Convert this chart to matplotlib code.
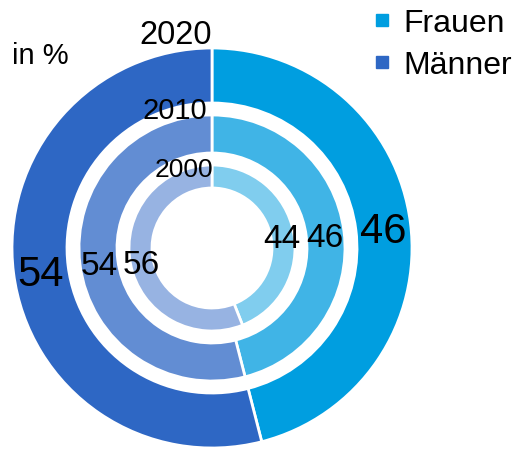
import numpy as np
import matplotlib
matplotlib.use('Agg')
import matplotlib.pyplot as plt
from matplotlib.lines import Line2D

plt.rcParams['font.family'] = ['Liberation Sans', 'DejaVu Sans']

# data (in %)
groups = ["Frauen", "Männer"]
years = ["2020", "2010", "2000"]
share_2020 = [46, 54]
share_2010 = [46, 54]
share_2000 = [44, 56]

colors_2020 = ["#009EE0", "#2E67C4"]
colors_2010 = ["#40B4E6", "#628DD3"]
colors_2000 = ["#80CDEE", "#97B3E2"]

# ring geometry (outer radius, width) and label sizes
rings = [
    (share_2020, colors_2020, 1.0, 0.275, 30),
    (share_2010, colors_2010, 0.665, 0.19, 24),
    (share_2000, colors_2000, 0.415, 0.115, 24),
]

fig = plt.figure(figsize=(5.16, 4.52), dpi=100)
ax = fig.add_axes([12 / 516, 3 / 452, 400 / 516, 400 / 452])

for values, cols, r, w, fs in rings:
    wedges, _ = ax.pie(values, colors=cols, radius=r, startangle=90,
                       counterclock=False,
                       wedgeprops=dict(width=w, edgecolor='white', linewidth=2))
    mid_r = r - w / 2
    for wd, v in zip(wedges, values):
        ang = np.deg2rad((wd.theta1 + wd.theta2) / 2)
        ax.text(mid_r * np.cos(ang), mid_r * np.sin(ang), f"{v}",
                ha='center', va='center_baseline', fontsize=fs, color='black')

ax.text(-0.18, 1.07, years[0], ha='center', va='center', fontsize=23.5)
ax.text(-0.185, 0.69, years[1], ha='center', va='center', fontsize=21)
ax.text(-0.14, 0.395, years[2], ha='center', va='center', fontsize=19)
ax.text(-0.86, 0.965, "in %", ha='center', va='center', fontsize=21)

ax.set_xlim(-1, 1)
ax.set_ylim(-1, 1)
ax.set_aspect('equal')
ax.axis('off')

handles = [Line2D([], [], marker='s', linestyle='none', markersize=8,
                  markerfacecolor=c, markeredgecolor=c) for c in colors_2020]
fig.legend(handles, groups, loc='upper left', bbox_to_anchor=(360 / 516, 1.008),
           frameon=False, fontsize=23, handlelength=0.6, handletextpad=0.35,
           labelspacing=0.38, borderaxespad=0)

fig.savefig("out.png", dpi=100)
